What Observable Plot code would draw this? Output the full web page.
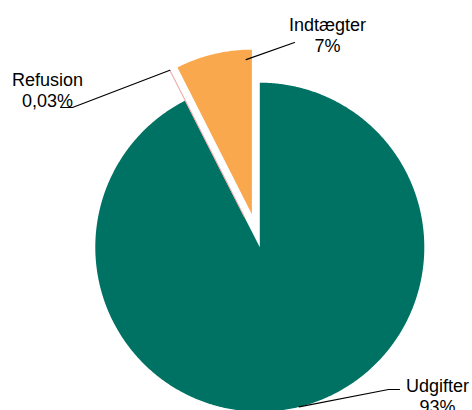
<!DOCTYPE html>
<html>
<head>
<meta charset="utf-8">
<script src="https://cdn.jsdelivr.net/npm/d3@7"></script>
<script src="https://cdn.jsdelivr.net/npm/@observablehq/plot@0.6"></script>
<style>
  html, body { margin: 0; padding: 0; background: #ffffff; }
  #chart svg { display: block; }
</style>
</head>
<body>
<div id="chart"></div>
<script>
// ---- data ----
const categories = ["Udgifter", "Refusion", "Indtægter"];
const shares = [92.5, 0.03, 7.47];           // percent of total
const labelTexts = ["Udgifter\n93%", "Refusion\n0,03%", "Indtægter\n7%"];
const sliceColors = ["#007264", "#ffffff", "#f9a84d"];

// ---- layout (pixels) ----
const W = 472, H = 410;
const cx = 259.3, cy = 246.7, R = 164.5;
const explode = [0, 34, 34];                 // offset of each slice
const labelPos = [[437, 412], [47, 106], [327, 51]];   // baseline of last line, centre x
// leader lines: angle offset inside slice (fraction), radius fraction, then path points toward label
const leaderStart = [{t: 0.4990, r: 1.0}, {t: 0.5, r: 1.0}, {t: 0.92, r: 0.94}];
const leaderRest = [[[388, 389], [399, 389]], [[72, 107], [60, 107]], [[294, 42]]];

// ---- geometry from data ----
const arcs = d3.pie().sort(null).value(d => d)(shares);
const slices = [];
const leaders = [];
arcs.forEach((a, i) => {
  const mid = (a.startAngle + a.endAngle) / 2;
  const ox = cx + explode[i] * Math.sin(mid);
  const oy = cy - explode[i] * Math.cos(mid);
  const name = categories[i];
  const pts = [{name, x: ox, y: oy}];
  const n = Math.max(2, Math.ceil((a.endAngle - a.startAngle) / (Math.PI / 360)));
  for (let k = 0; k <= n; k++) {
    const ang = a.startAngle + (a.endAngle - a.startAngle) * k / n;
    pts.push({name, x: ox + R * Math.sin(ang), y: oy - R * Math.cos(ang)});
  }
  pts.push({name, x: ox, y: oy});
  slices.push(...pts);
  const ls = leaderStart[i];
  const ang = a.startAngle + (a.endAngle - a.startAngle) * ls.t;
  const lp = [{name, x: ox + R * ls.r * Math.sin(ang), y: oy - R * ls.r * Math.cos(ang)}];
  leaderRest[i].forEach(p => lp.push({name, x: p[0], y: p[1]}));
  leaders.push(...lp);
});
const labels = categories.map((c, i) => ({name: c, text: labelTexts[i], x: labelPos[i][0], y: labelPos[i][1]}));

const chart = Plot.plot({
  width: W,
  height: H,
  margin: 0,
  style: {background: "#ffffff", fontFamily: "'Liberation Sans', Arial, sans-serif"},
  x: {domain: [0, W], axis: null},
  y: {domain: [H, 0], axis: null},
  color: {type: "ordinal", domain: categories, range: sliceColors},
  marks: [
    Plot.line(slices, {x: "x", y: "y", z: "name", fill: "name", stroke: "none", curve: "linear"}),
    Plot.line(slices.filter(d => d.name === "Refusion"), {x: "x", y: "y", z: "name", stroke: "#eeaaaa", strokeWidth: 0.8, fill: "none"}),
    Plot.line(leaders, {x: "x", y: "y", z: "name", stroke: "#000000", strokeWidth: 1.2}),
    Plot.text(labels, {x: "x", y: "y", text: "text", lineAnchor: "bottom", lineHeight: 1.15, fontSize: 18, fill: "#000000", textAnchor: "middle"})
  ]
});
document.getElementById("chart").appendChild(chart);
</script>
</body>
</html>
